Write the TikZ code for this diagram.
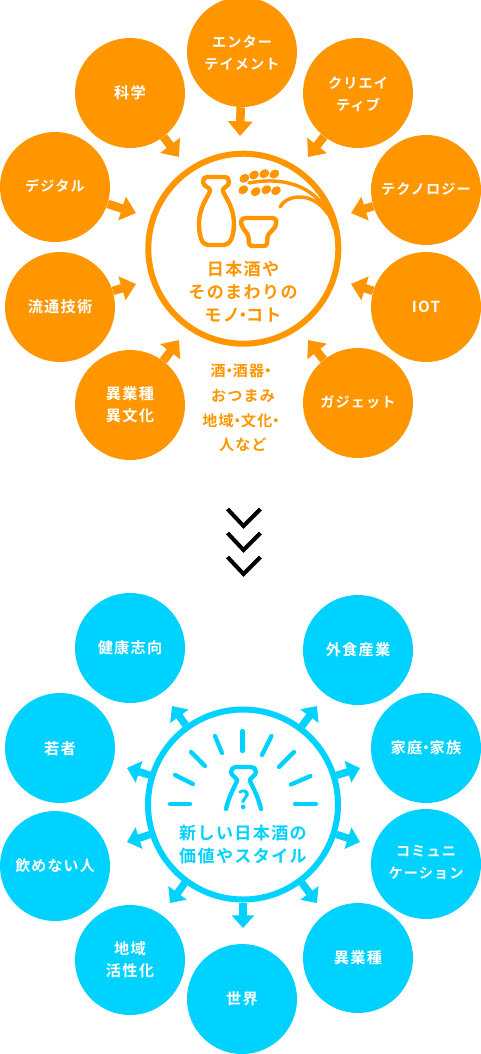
\documentclass[tikz,border=0pt]{standalone}
\usepackage{fontspec}
\usetikzlibrary{arrows.meta}
\setmainfont{Noto Sans CJK JP}[BoldFont={Noto Sans CJK JP Bold},LetterSpace=8]
\definecolor{org}{HTML}{FF9600}
\definecolor{sky}{HTML}{00D2FF}
\newcommand{\nd}{\hspace{-0.32em}・\hspace{-0.32em}}
\newcommand{\nde}{\hspace{-0.26em}・\hspace{-0.26em}}
\newcommand{\tx}[2][0]{\raisebox{-#1pt}[0.9em][0.2em]{#2}}
\tikzset{
  bub/.style={circle,minimum size=82.5pt,inner sep=0pt,align=center,text=white,font=\bfseries\fontsize{10.6}{16.5}\selectfont},
  kan/.style={font=\bfseries\fontsize{11.4}{16.5}\selectfont},
  obub/.style={bub,fill=org},
  sbub/.style={bub,fill=sky},
  hub/.style={circle,minimum size=142.5pt,inner sep=0pt,line width=4.5pt,fill=white},
  oarr/.style={org,line width=6.4pt,-{Triangle[length=11pt,width=18pt]}},
  sarr/.style={sky,line width=5.6pt,-{Triangle[length=9.5pt,width=16.5pt]}},
  icon/.style={line width=3.3pt,line join=round,line cap=round},
  ray/.style={sky,line width=3.2pt,line cap=round},
  hubtext/.style={inner sep=0pt,align=center,font=\bfseries\fontsize{12.8}{17.5}\selectfont},
  chev/.style={black,line width=3pt,line join=miter}
}
\begin{document}
\begin{tikzpicture}[x=0.75pt,y=-0.75pt]
\useasboundingbox (0,0) rectangle (480,1054);
% orange tips
\coordinate (t1) at (240,136);
\coordinate (t2) at (179,157);
\coordinate (t3) at (308,157);
\coordinate (t4) at (136,213);
\coordinate (t5) at (351,213);
\coordinate (t6) at (136,284);
\coordinate (t7) at (351,284);
\coordinate (t8) at (179,340);
\coordinate (t9) at (308,340);
% orange nodes
\node[obub] (a1) at (242,52) {\tx[0.8]{エンター}\\\tx[0.8]{テイメント}};
\node[obub,kan] (a2) at (130,93) {\tx{科学}};
\node[obub] (a3) at (358,93) {\tx[1.4]{クリエイ}\\\tx[1.4]{ティブ}};
\node[obub] (a4) at (55,187) {\tx{デジタル}};
\node[obub] (a5) at (426,190) {\tx{テクノロジー}};
\node[obub,kan] (a6) at (60,307) {\tx{流通技術}};
\node[obub,kan] (a7) at (426,307) {\tx{IOT}};
\node[obub,kan] (a8) at (130,405) {\tx{異業種}\\\tx{異文化}};
\node[obub] (a9) at (358,403) {\tx{ガジェット}};
\foreach \i in {1,...,9}{\draw[oarr] (a\i) -- (t\i);}
\node[hub,draw=org] (hubA) at (243.3,248.7) {};
% sake icon
\draw[icon,org] (207,177) -- (224,177) .. controls (227.5,177) and (229,179) .. (229,182)
  .. controls (229,187) and (222,187) .. (223,191)
  .. controls (225,197) and (234,207) .. (234,224)
  .. controls (234,236) and (230,245) .. (224,245)
  -- (208,245)
  .. controls (202,245) and (199,236) .. (199,224)
  .. controls (199,207) and (208,197) .. (210,191)
  .. controls (211,187) and (203,187) .. (203,182)
  .. controls (203,179) and (204.5,177) .. (207,177) -- cycle;
\draw[icon,org] (246,218) -- (272,218) .. controls (277,218) and (277,222) .. (275.5,226)
  .. controls (273,231) and (268,233) .. (267.5,237)
  .. controls (267,241) and (268,246) .. (264,246) -- (252,246)
  .. controls (248,246) and (249,241) .. (248.5,237)
  .. controls (248,233) and (244,231) .. (242,226)
  .. controls (240,222) and (241,218) .. (246,218) -- cycle;
\draw[icon,org,line width=2.6pt] (249,183) .. controls (285,176) and (322,186) .. (334,228);
\draw[icon,org,line width=2.6pt] (280,207) .. controls (286,195) and (312,190) .. (328,214);
\foreach \p/\a in {244.3/178.3,254/175,264.3/173.7,274.3/174,243.3/189.7,255.7/191.7,266.3/189.7,276/190.7}{
  \path[fill=org,rotate around={35:(\p,\a)}] (\p,\a) ellipse [x radius=3.9pt,y radius=3.1pt];}
\node[hubtext,text=org] (lblA) at (243,291.5) {日本酒や\\そのまわりの\\モノ\nd コト};
\node[inner sep=0pt,align=center,text=org,font=\bfseries\fontsize{11.3}{18.6}\selectfont] (lblB) at (243,408) {酒\nde 酒器\nde\\おつまみ\\地域\nde 文化\nde\\人など};
% chevrons
\foreach \y in {0,24,48}{
  \draw[chev] (227.5,509+\y) -- (243.5,526+\y) -- (260.5,509+\y);}
% blue nodes
\node[sbub,kan] (b1) at (130,648) {\tx{健康志向}};
\node[sbub,kan] (b2) at (358,650) {\tx{外食産業}};
\node[sbub,kan] (b3) at (60,748) {\tx[1.2]{若者}};
\node[sbub,kan] (b4) at (426,748) {\tx{家庭\nde 家族}};
\node[sbub,font=\bfseries\fontsize{11.2}{16.5}\selectfont] (b5) at (55,866) {\tx{飲めない人}};
\node[sbub] (b6) at (426,864) {\tx[-1]{コミュニ}\\\tx[-1]{ケーション}};
\node[sbub,kan] (b7) at (130,960) {\tx{地域}\\\tx{活性化}};
\node[sbub,kan] (b8) at (358,958) {\tx{異業種}};
\node[sbub,kan] (b9) at (242,999) {\tx{世界}};
\node[hub,draw=sky] (hubB) at (243,804.5) {};
\coordinate (u1) at (172,706);
\coordinate (u2) at (317,706);
\coordinate (u3) at (127,768);
\coordinate (u4) at (360,768);
\coordinate (u5) at (127,842);
\coordinate (u6) at (360,842);
\coordinate (u7) at (170,903);
\coordinate (u8) at (317,903);
\coordinate (u9) at (243,928);
\foreach \i in {1,...,9}{\draw[sarr] (hubB) -- (u\i);}
\draw[ray] (242.5,731) -- (242.5,751);
\draw[ray] (215,736) -- (222,753);
\draw[ray] (191,752) -- (205,766);
\draw[ray] (175,775) -- (193,784);
\draw[ray] (170,804) -- (190,804);
\draw[ray] (271.5,736) -- (262,755);
\draw[ray] (294,752) -- (279,767);
\draw[ray] (310.5,776) -- (291,784.5);
\draw[ray] (316,804) -- (295,804);
\draw[icon,sky] (226,809) .. controls (229,796) and (234,788) .. (237,781)
  .. controls (238,778) and (231,776) .. (231,772)
  .. controls (231,769) and (233,767) .. (236,767) -- (251,767)
  .. controls (254,767) and (256,769) .. (256,772)
  .. controls (256,776) and (249,778) .. (250,781)
  .. controls (253,788) and (258,796) .. (261,809);
\node[inner sep=0pt,text=sky,font=\bfseries\fontsize{19}{19}\selectfont] (qm) at (244,800) {?};
\node[hubtext,text=sky] (lblC) at (243,844.5) {新しい日本酒の\\価値やスタイル};
\end{tikzpicture}
\end{document}
